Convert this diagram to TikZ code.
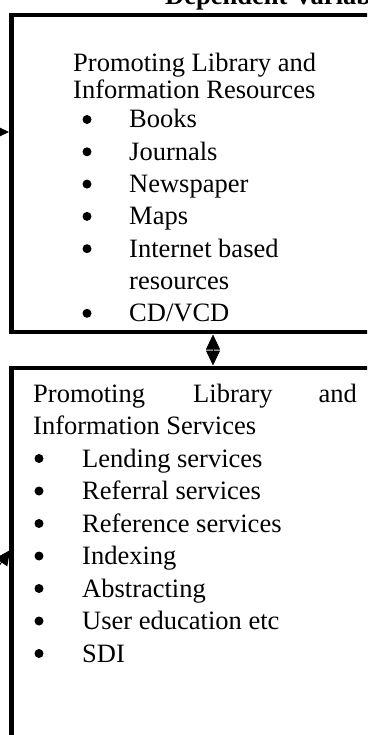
\documentclass[tikz,border=0pt]{standalone}
\usepackage{fontspec}
\setmainfont{Liberation Serif}
\usetikzlibrary{arrows.meta}
\tikzset{
  box/.style={draw, rectangle, line width=4.5pt, inner sep=0pt, outer sep=0pt},
  txt/.style={anchor=base west, inner sep=0pt, font=\fontsize{26.5}{32}\selectfont},
  dot/.style={circle, fill, inner sep=0pt, minimum size=9pt, yshift=8.5pt},
  tri/.tip={Triangle[length=15pt,width=14pt]}
}

\begin{document}
\begin{tikzpicture}[x=1pt,y=-1pt]
  \useasboundingbox (0,0) rectangle (367,735);
  \clip (0,0) rectangle (367,735);
  \node[txt, font=\fontsize{26.5}{32}\selectfont\bfseries] (dv) at (165,5) {Dependent Variables};
  % resources box
  \node[box, minimum width=408.5pt, minimum height=317pt] (res) at (215.75,173.5) {};
  \node[txt] (r1) at (73,72) {Promoting Library and};
  \node[txt] (r2) at (73,99) {Information Resources};
  \foreach \t [count=\i from 0] in {Books,Journals,Newspaper,Maps,Internet based,resources,CD/VCD}
    \node[txt] (ri\i) at (129,128+32.3*\i) {\t};
  \foreach \i in {0,1,2,3,4,6}
    \node[dot] (rb\i) at (87,128+32.3*\i) {};
  % services box
  \node[box, minimum width=408.5pt, minimum height=432pt] (serv) at (215.75,584) {};
  \node[txt] (s1a) at (33,402) {Promoting};
  \node[txt] (s1b) at (193,402) {Library};
  \node[txt, anchor=base east] (s1c) at (357,402) {and};
  \node[txt] (s2) at (33,434) {Information Services};
  \foreach \t [count=\i from 0] in {Lending services,Referral services,Reference services,Indexing,Abstracting,User education etc,SDI} {
    \node[txt] (si\i) at (82,467+32.5*\i) {\t};
    \node[dot] (sb\i) at (39,467+32.5*\i) {};
  }
  % arrows
  \coordinate (ina) at (-30,132);
  \draw[line width=1pt, -{tri}, shorten >=2.5pt] (ina) -- (res.west |- ina);
  \coordinate (inb) at (-25,600);
  \coordinate (hb) at (0,548);
  \draw[line width=1pt, -{tri}, shorten >=2.5pt] (inb) -- (serv.west |- hb);
  \coordinate (mid) at (213,0);
  \draw[line width=0.6pt, {tri}-{tri}, shorten <=2.5pt, shorten >=2.5pt] (res.south -| mid) -- (serv.north -| mid);
\end{tikzpicture}
\end{document}
